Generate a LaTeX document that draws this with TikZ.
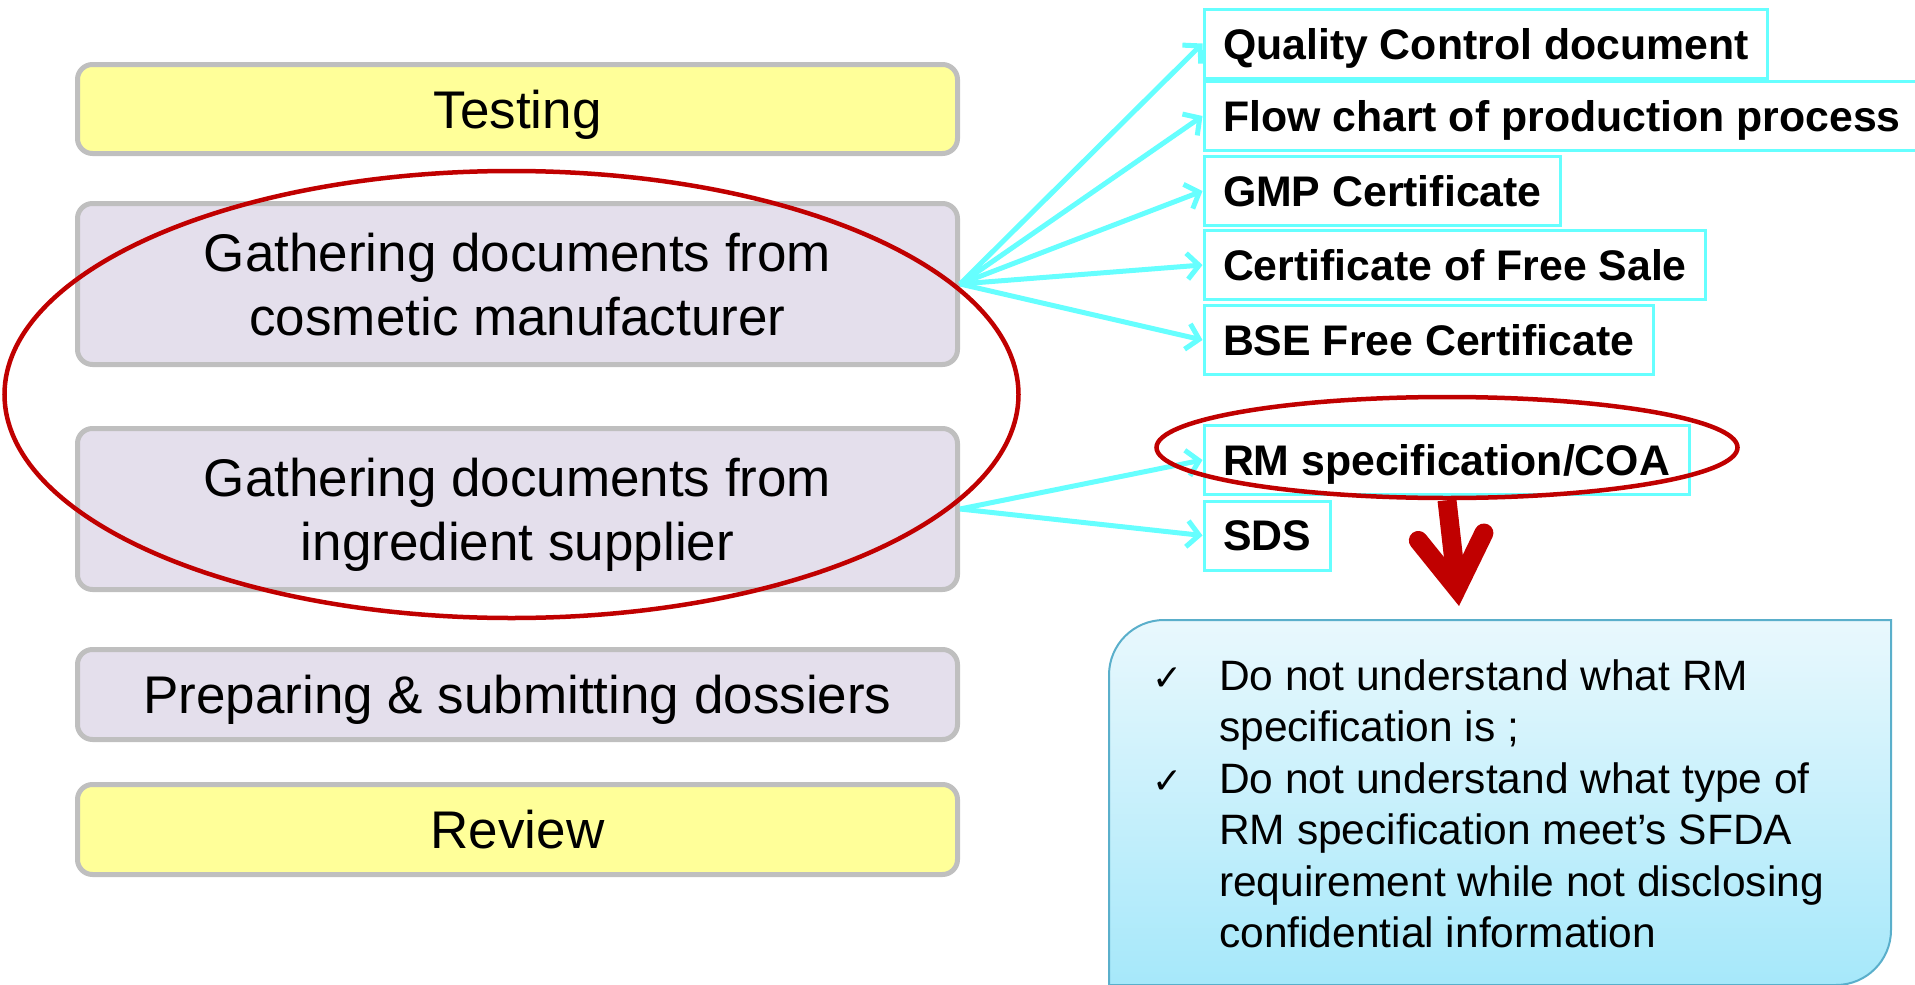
\documentclass[tikz,border=0pt]{standalone}
\usepackage{fontspec}
\setmainfont{Liberation Sans}
\newfontfamily\chkfont{DejaVu Sans}
\usetikzlibrary{arrows.meta,shapes.geometric}

\definecolor{stageyellow}{HTML}{FFFF99}
\definecolor{stagelilac}{HTML}{E4DFEC}
\definecolor{stagegray}{HTML}{BFBFBF}
\definecolor{doccyan}{HTML}{66FFFF}
\definecolor{markred}{HTML}{C00000}
\definecolor{notetop}{HTML}{E9F8FD}
\definecolor{notebottom}{HTML}{A6E8FA}
\definecolor{noteline}{HTML}{5AAFCB}

\newcommand{\chkmark}{{\chkfont\fontsize{36}{51.5}\selectfont ✓}}

\tikzset{
  stage/.style={rectangle, rounded corners=15pt, draw=stagegray, line width=5pt,
    minimum width=880pt, align=center, inner sep=0pt, text depth=0pt,
    font=\fontsize{53}{64}\selectfont},
  doc/.style={rectangle, draw=doccyan, line width=3pt, anchor=west,
    minimum height=69pt, inner xsep=19pt, inner ysep=0pt, text depth=0pt,
    font=\fontsize{42.8}{50}\bfseries\selectfont},
  link/.style={draw=doccyan, line width=5pt, -{Straight Barb[length=12pt,width=26pt]}},
  ring/.style={ellipse, draw=markred, line width=4.5pt, inner sep=0pt},
  bigarrow/.style={draw=markred, line width=19pt,
    -{Straight Barb[length=52pt,width=66pt,line join=miter,line cap=round]}},
}

\begin{document}
\begin{tikzpicture}[x=1pt, y=-1pt]
  \useasboundingbox (0,0) rectangle (1915,985);

  % Les étapes
  \node[stage, fill=stageyellow, minimum height=89pt] (testing) at (517.5,109) {Testing};
  \node[stage, fill=stagelilac, minimum height=161pt] (gath1) at (517.5,284) {Gathering documents from\\cosmetic manufacturer};
  \node[stage, fill=stagelilac, minimum height=161pt] (gath2) at (517.5,509) {Gathering documents from\\ingredient supplier};
  \node[stage, fill=stagelilac, minimum height=90pt] (dossier) at (517.5,694.5) {Preparing \& submitting dossiers};
  \node[stage, fill=stageyellow, minimum height=90pt] (review) at (517.5,829.5) {Review};

  % Documents du fabricant
  \node[doc] (qc) at (1202.5,43.5) {Quality Control document};
  \node[doc] (flow) at (1202.5,116) {Flow chart of production process};
  \node[doc] (gmp) at (1202.5,191) {GMP Certificate};
  \node[doc] (cfs) at (1202.5,265) {Certificate of Free Sale};
  \node[doc] (bse) at (1202.5,340) {BSE Free Certificate};

  % Documents du fournisseur
  \node[doc] (rm) at (1202.5,460) {RM specification/COA};
  \node[doc] (sds) at (1202.5,535.5) {SDS};

  % Les flèches
  \draw[link] (gath1.east) -- (qc.west);
  \draw[link] (gath1.east) -- (flow.west);
  \draw[link] (gath1.east) -- (gmp.west);
  \draw[link] (gath1.east) -- (cfs.west);
  \draw[link] (gath1.east) -- (bse.west);
  \draw[link] (gath2.east) -- (rm.west);
  \draw[link] (gath2.east) -- (sds.west);

  % Les ellipses rouges
  \node[ring, minimum width=1014pt, minimum height=447pt] (gathring) at (511.5,394.5) {};
  \node[ring, minimum width=581pt, minimum height=101pt] (rmring) at (1447,447.5) {};

  % Encadré
  \shade[top color=notetop, bottom color=notebottom, draw=noteline, line width=2pt]
    (1109,985) -- (1109,675) arc[start angle=180, end angle=270, radius=55]
    -- (1891,620) -- (1891,930) arc[start angle=0, end angle=90, radius=55] -- cycle;
  \node[anchor=north west, inner sep=0pt, font=\fontsize{42.5}{51.5}\selectfont] (note) at (1152,654) {%
    \begin{tabular}{@{}p{67pt}@{}l@{}}
      \chkmark & Do not understand what RM\\
      & specification is ;\\
      \chkmark & Do not understand what type of\\
      & RM specification meet’s SFDA\\
      & requirement while not disclosing\\
      & confidential information
    \end{tabular}};

  \coordinate (tip) at (1459,606);
  \draw[bigarrow] (rmring.south) -- (tip);
\end{tikzpicture}
\end{document}
